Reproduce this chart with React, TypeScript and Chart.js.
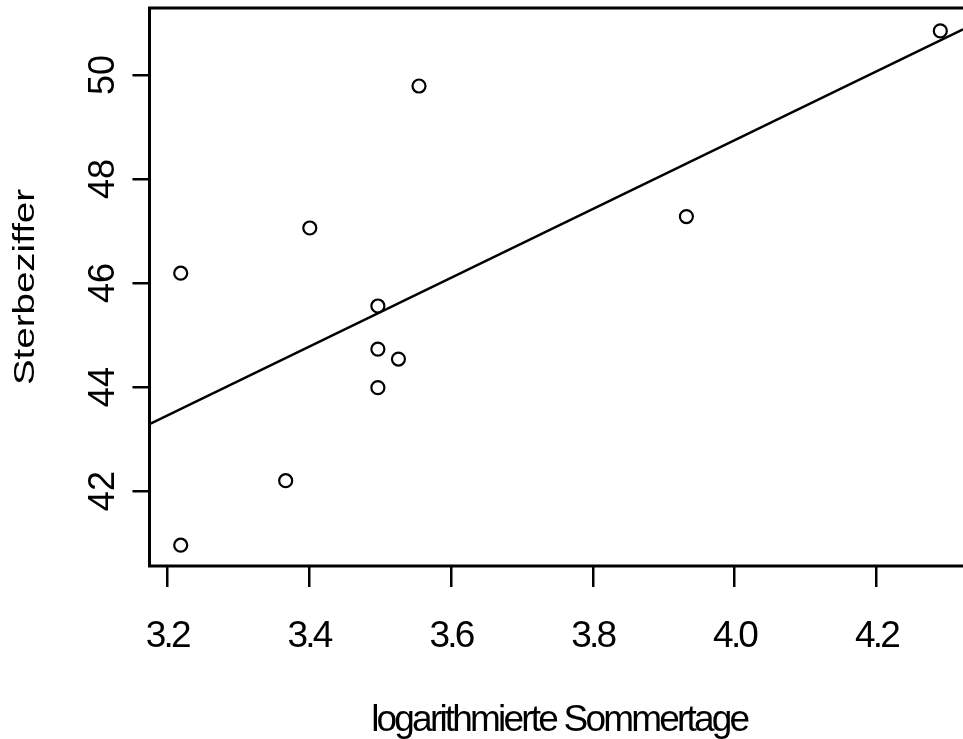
import React, { useEffect, useRef } from "react";
import { Chart, registerables } from "chart.js";

Chart.register(...registerables);

// Data (logarithmierte Sommertage vs. Sterbeziffer)
const X_VALUES = [3.219, 3.219, 3.367, 3.401, 3.497, 3.497, 3.497, 3.526, 3.555, 3.932, 4.290];
const Y_VALUES = [46.19, 40.96, 42.20, 47.06, 45.56, 44.73, 43.99, 44.54, 49.79, 47.28, 50.85];

// Regression line end points (at the left and right edges of the plot region)
const LINE_X = [3.175, 4.322];
const LINE_Y = [43.29, 50.88];

const X_TICKS = [3.2, 3.4, 3.6, 3.8, 4.0, 4.2];
const Y_TICKS = [42, 44, 46, 48, 50];

const X_RANGE = [3.175, 4.322];
const Y_RANGE = [40.56, 51.29];

const X_TITLE = "logarithmierte Sommertage";
const Y_TITLE = "Sterbeziffer";

const FONT = '"Liberation Sans", Arial, Helvetica, sans-serif';
const X_SPACING = "-2.8px";

const patchXScale = (s: any) => {
  if (s._rPatched) return;
  s._rPatched = true;
  const origLabels = s.drawLabels;
  const origTitle = s.drawTitle;
  s.drawLabels = function (ca: any) {
    const c = this.ctx;
    c.save();
    c.letterSpacing = X_SPACING;
    origLabels.call(this, ca);
    c.restore();
  };
  s.drawTitle = function () {
    const c = this.ctx;
    c.save();
    c.letterSpacing = X_SPACING;
    c.translate(3, 0);
    origTitle.call(this);
    c.restore();
  };
};

const patchYScale = (s: any) => {
  if (s._rPatched) return;
  s._rPatched = true;
  const origTitle = s.drawTitle;
  s.drawTitle = function () {
    const c = this.ctx;
    const cx = 26;
    c.save();
    c.translate(cx, 0);
    c.scale(0.79, 1);
    c.translate(-cx, 0);
    origTitle.call(this);
    c.restore();
  };
};

const boxPlugin = {
  id: "rbox",
  afterDatasetsDraw(chart: any) {
    const { ctx, chartArea } = chart;
    const { left, top, right, bottom } = chartArea;
    ctx.save();
    ctx.strokeStyle = "#000";
    ctx.lineWidth = 3;
    ctx.beginPath();
    ctx.moveTo(right + 5, top);
    ctx.lineTo(left, top);
    ctx.lineTo(left, bottom);
    ctx.lineTo(right + 5, bottom);
    ctx.stroke();
    ctx.restore();
  },
};

export default function App() {
  const ref = useRef<HTMLCanvasElement | null>(null);

  useEffect(() => {
    if (!ref.current) return;
    const points = X_VALUES.map((x, i) => ({ x, y: Y_VALUES[i] }));
    const line = LINE_X.map((x, i) => ({ x, y: LINE_Y[i] }));
    const chart = new Chart(ref.current, {
      type: "scatter",
      data: {
        datasets: [
          {
            type: "line",
            data: line,
            borderColor: "#000",
            borderWidth: 2.5,
            pointRadius: 0,
            fill: false,
          } as any,
          {
            data: points,
            pointStyle: "circle",
            pointRadius: 6.5,
            pointBorderWidth: 2.2,
            pointBorderColor: "#000",
            pointBackgroundColor: "rgba(0,0,0,0)",
          } as any,
        ],
      },
      options: {
        animation: false,
        responsive: false,
        devicePixelRatio: 1,
        layout: { autoPadding: false, padding: { top: 8, right: 0, left: 0, bottom: 0 } },
        plugins: {
          legend: { display: false },
          tooltip: { enabled: false },
        },
        scales: {
          x: {
            type: "linear",
            min: X_RANGE[0],
            max: X_RANGE[1],
            afterBuildTicks: (s: any) => {
              s.ticks = X_TICKS.map((v) => ({ value: v }));
            },
            afterFit: (s: any) => {
              s.height = 173;
              s.paddingLeft = 0;
              s.paddingRight = 0;
            },
            afterUpdate: patchXScale,
            border: { display: false },
            grid: {
              drawOnChartArea: false,
              drawTicks: true,
              tickLength: 21,
              color: "#000",
              lineWidth: 2.5,
            },
            ticks: {
              color: "#000",
              padding: 28,
              autoSkip: false,
              maxRotation: 0,
              font: { family: FONT, size: 37 },
              callback: (v: any) => Number(v).toFixed(1),
            },
            title: {
              display: true,
              text: X_TITLE,
              color: "#000",
              font: { family: FONT, size: 37, lineHeight: 1 },
              padding: { top: 0, bottom: 0 },
            },
          },
          y: {
            type: "linear",
            min: Y_RANGE[0],
            max: Y_RANGE[1],
            afterBuildTicks: (s: any) => {
              s.ticks = Y_TICKS.map((v) => ({ value: v }));
            },
            afterFit: (s: any) => {
              s.width = 149.5;
              s.paddingTop = 0;
              s.paddingBottom = 0;
            },
            afterUpdate: patchYScale,
            border: { display: false },
            grid: {
              drawOnChartArea: false,
              drawTicks: true,
              tickLength: 17,
              color: "#000",
              lineWidth: 2.5,
            },
            ticks: {
              color: "#000",
              padding: 8,
              autoSkip: false,
              minRotation: 90,
              maxRotation: 90,
              crossAlign: "center",
              font: { family: FONT, size: 36 },
              callback: (v: any) => String(v),
            },
            title: {
              display: true,
              text: Y_TITLE,
              color: "#000",
              font: { family: FONT, size: 38.5, lineHeight: 1 },
              padding: { top: 6.8, bottom: 0 },
            },
          },
        },
      },
      plugins: [boxPlugin],
    });
    return () => chart.destroy();
  }, []);

  return (
    <div style={{ position: "absolute", left: 0, top: 0, width: 963, height: 739, background: "#fff" }}>
      <canvas ref={ref} width={963} height={739} style={{ display: "block" }} />
    </div>
  );
}
